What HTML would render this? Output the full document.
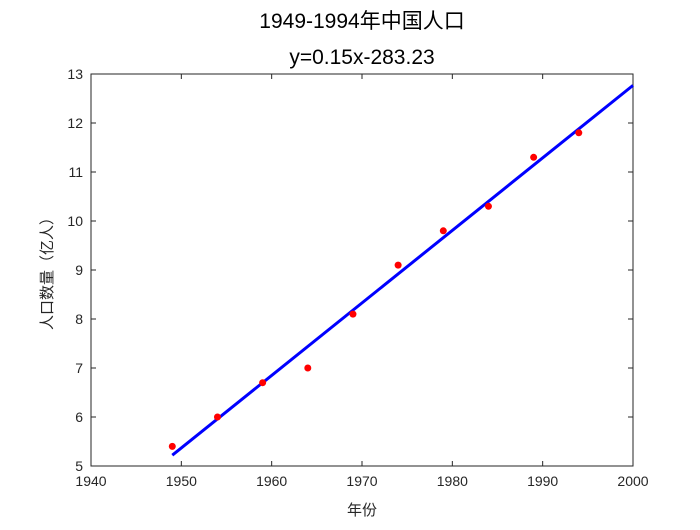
<!DOCTYPE html>
<html><head><meta charset="utf-8"><style>
body{margin:0;background:#fff;}
svg text{font-family:"Liberation Sans","Noto Sans CJK SC",sans-serif;}
</style></head><body>
<svg id="chart" width="700" height="525"></svg>
<script>
const years=[1949,1954,1959,1964,1969,1974,1979,1984,1989,1994];
const population=[5.4,6.0,6.7,7.0,8.1,9.1,9.8,10.3,11.3,11.8];
const xTicks=[1940,1950,1960,1970,1980,1990,2000];
const yTicks=[5,6,7,8,9,10,11,12,13];
const L=91,R=633,T=74,B=466;
const xs=v=>L+(v-1940)/60*(R-L);
const ys=v=>B-(v-5)/8*(B-T);
const svg=document.getElementById('chart');
const NS='http://www.w3.org/2000/svg';
function mk(tag,attrs,parent){const e=document.createElementNS(NS,tag);for(const k in attrs)e.setAttribute(k,attrs[k]);(parent||svg).appendChild(e);return e;}
const frame=mk('rect',{x:L,y:T,width:R-L,height:B-T,fill:'#fff',stroke:'#262626','stroke-width':1});


xTicks.forEach(v=>{const x=xs(v);
mk('line',{x1:x,y1:B,x2:x,y2:B-5,stroke:'#262626'});mk('line',{x1:x,y1:T,x2:x,y2:T+5,stroke:'#262626'});
const t=mk('text',{x:x,y:B+20,'text-anchor':'middle','font-size':14,fill:'#262626'});t.textContent=v;

});
yTicks.forEach(v=>{const y=ys(v);
mk('line',{x1:L,y1:y,x2:L+5,y2:y,stroke:'#262626'});mk('line',{x1:R,y1:y,x2:R-5,y2:y,stroke:'#262626'});
const t=mk('text',{x:L-8,y:y+5,'text-anchor':'end','font-size':14,fill:'#262626'});t.textContent=v;

});
// regression
const n=years.length,mx=years.reduce((a,b)=>a+b)/n,my=population.reduce((a,b)=>a+b)/n;
let sxy=0,sxx=0;years.forEach((x,i)=>{sxy+=(x-mx)*(population[i]-my);sxx+=(x-mx)**2;});
const k=sxy/sxx,b=my-k*mx;
const fit=mk('line',{x1:xs(years[0]),y1:ys(k*years[0]+b),x2:xs(2000),y2:ys(k*2000+b),stroke:'#0000ff','stroke-width':3});


years.forEach((x,i)=>{const c=mk('circle',{cx:xs(x),cy:ys(population[i]),r:3.5,fill:'#ff0000'});

});
const t1=mk('text',{x:362,y:28,'text-anchor':'middle','font-size':21,fill:'#000'});t1.textContent='1949-1994年中国人口';


const t2=mk('text',{x:362,y:64,'text-anchor':'middle','font-size':21,fill:'#000'});t2.textContent='y=0.15x-283.23';


const xl=mk('text',{x:362,y:515,'text-anchor':'middle','font-size':15,fill:'#262626','font-family':'"Noto Serif CJK SC",serif'});xl.textContent='年份';


const yl=mk('text',{x:0,y:0,'text-anchor':'middle','font-size':15,fill:'#262626','font-family':'"Noto Serif CJK SC",serif',transform:'translate(52,270) rotate(-90)'});yl.textContent='人口数量（亿人）';


</script>
</body></html>
